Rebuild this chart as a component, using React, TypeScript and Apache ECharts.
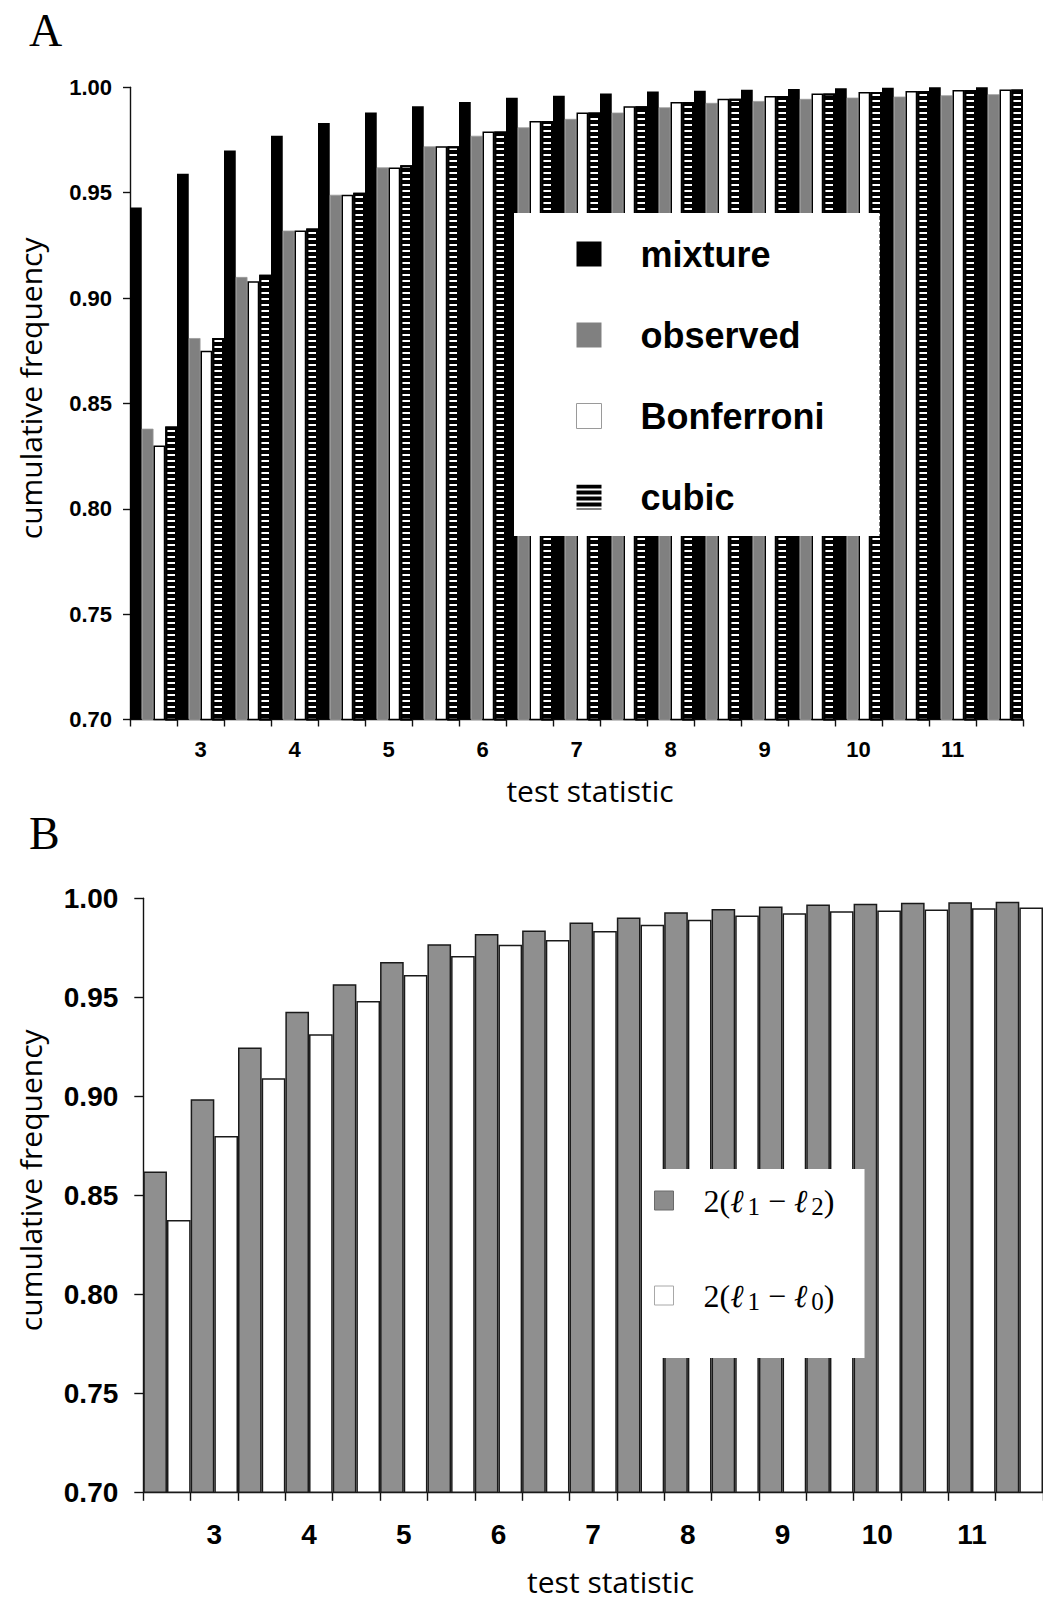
import React, { useEffect, useRef } from "react";
import * as echarts from "echarts";

// ---------- categories / tick labels ----------
const testStatistic = ["2.5", "3", "3.5", "4", "4.5", "5", "5.5", "6", "6.5", "7", "7.5", "8", "8.5", "9", "9.5", "10", "10.5", "11", "11.5"];
const xTickLabels = ["3", "4", "5", "6", "7", "8", "9", "10", "11"];
const yMin = 0.7;
const yMax = 1.0;
const yStep = 0.05;

// ---------- panel A series ----------
const mixture = [0.943, 0.959, 0.970, 0.977, 0.983, 0.988, 0.991, 0.993, 0.995, 0.996, 0.997, 0.998, 0.9984, 0.9988, 0.9992, 0.9995, 0.9998, 1.0, 1.0];
const observed = [0.838, 0.881, 0.910, 0.932, 0.949, 0.962, 0.972, 0.977, 0.981, 0.985, 0.988, 0.9905, 0.9926, 0.9935, 0.9945, 0.9951, 0.9956, 0.9962, 0.9967];
const bonferroni = [0.830, 0.875, 0.908, 0.932, 0.949, 0.962, 0.972, 0.979, 0.984, 0.988, 0.991, 0.993, 0.9946, 0.9959, 0.997, 0.9978, 0.9982, 0.9987, 0.999];
const cubic = [0.839, 0.881, 0.911, 0.933, 0.950, 0.963, 0.972, 0.979, 0.984, 0.988, 0.991, 0.993, 0.9946, 0.9959, 0.997, 0.9978, 0.9982, 0.9987, 0.999];

// ---------- panel B series ----------
const l1MinusL2 = [0.862, 0.8985, 0.9247, 0.9427, 0.9566, 0.9678, 0.9768, 0.982, 0.9838, 0.9878, 0.9903, 0.9929, 0.9946, 0.9959, 0.9969, 0.9972, 0.9978, 0.998, 0.9983];
const l1MinusL0 = [0.8375, 0.880, 0.9091, 0.9313, 0.9481, 0.9613, 0.9709, 0.9765, 0.979, 0.9835, 0.9866, 0.9892, 0.9913, 0.9924, 0.9934, 0.9939, 0.9944, 0.995, 0.9954];

const seriesNamesA = ["mixture", "observed", "Bonferroni", "cubic"];
const seriesNamesB = ["2(ℓ1 − ℓ2)", "2(ℓ1 − ℓ0)"];

const SANS = "Liberation Sans";
const NAME_FONT = "Open Sans";
const SERIF = "Liberation Serif";

function toRich(name: string): string {
  const m = name.match(/^2\(ℓ(\d) − ℓ(\d)\)$/);
  if (!m) return name;
  return `{n|2(}{l|ℓ}{s|${m[1]}}{n| − }{l|ℓ}{s|${m[2]}}{n|)}`;
}

function makeXAxis(gridIndex: number, fontSize: number, margin: number, tickLen: number, nameGap: number, namePadLeft: number) {
  return {
    type: "category",
    gridIndex,
    data: testStatistic,
    boundaryGap: true,
    axisLine: { show: true, lineStyle: { color: "#111", width: 1.4 } },
    axisTick: { show: true, interval: 0, length: tickLen, alignWithLabel: false, lineStyle: { color: "#111", width: 1.4 } },
    axisLabel: {
      interval: (_i: number, v: string) => xTickLabels.includes(v),
      margin,
      fontFamily: SANS,
      fontWeight: "bold",
      fontSize,
      color: "#000",
    },
    splitLine: { show: false },
    name: "test statistic",
    nameLocation: "middle",
    nameGap,
    nameTextStyle: { fontFamily: NAME_FONT, fontSize: 30, color: "#000", padding: [0, 0, 0, namePadLeft] },
  };
}

function makeYAxis(gridIndex: number, fontSize: number, margin: number, tickLen: number, nameGap: number) {
  return {
    type: "value",
    gridIndex,
    min: yMin,
    max: yMax,
    interval: yStep,
    axisLine: { show: true, lineStyle: { color: "#111", width: 1.4 } },
    axisTick: { show: true, length: tickLen, lineStyle: { color: "#111", width: 1.4 } },
    axisLabel: {
      margin,
      fontFamily: SANS,
      fontWeight: "bold",
      fontSize,
      color: "#000",
      formatter: (v: number) => v.toFixed(2),
    },
    splitLine: { show: false },
    name: "cumulative frequency",
    nameLocation: "middle",
    nameGap,
    nameTextStyle: { fontFamily: NAME_FONT, fontSize: 30, color: "#000", padding: [0, 0, 0, 30] },
  };
}

const stripeDecal = {
  symbol: "rect",
  symbolSize: 1,
  symbolKeepAspect: false,
  dashArrayX: [4, 0],
  dashArrayY: [4, 2],
  rotation: 0,
  color: "#000",
};

function buildOption() {
  return {
    animation: false,
    backgroundColor: "#ffffff",
    textStyle: { fontFamily: SANS },
    grid: [
      { left: 130, top: 87.3, width: 893, height: 632.2, containLabel: false },
      { left: 143.3, top: 898.3, width: 908.2, height: 594, containLabel: false },
    ],
    xAxis: [makeXAxis(0, 22, 19, 7, 56, 27), makeXAxis(1, 28, 28, 8.5, 74, 35)],
    yAxis: [makeYAxis(0, 22, 18, 7, 85), makeYAxis(1, 28, 25, 9, 98)],
    legend: [
      {
        orient: "vertical",
        left: 514,
        top: 213,
        backgroundColor: "#ffffff",
        padding: [23, 55, 21, 62],
        itemWidth: 25,
        itemHeight: 25,
        itemGap: 45,
        icon: "rect",
        selectedMode: false,
        textStyle: {
          fontFamily: SANS,
          fontWeight: "bold",
          fontSize: 36,
          lineHeight: 36,
          color: "#000",
          padding: [0, 0, 0, 34],
        },
        data: [
          { name: seriesNamesA[0], itemStyle: { borderWidth: 0 } },
          { name: seriesNamesA[1], itemStyle: { borderWidth: 0 } },
          { name: seriesNamesA[2], itemStyle: { borderColor: "#9a9a9a", borderWidth: 1 } },
          { name: seriesNamesA[3], itemStyle: { borderWidth: 0 } },
        ],
      },
      {
        orient: "vertical",
        left: 646,
        top: 1169,
        backgroundColor: "#ffffff",
        padding: [15.5, 30, 44.5, 8],
        itemWidth: 19,
        itemHeight: 19,
        itemGap: 61,
        icon: "rect",
        selectedMode: false,
        formatter: (name: string) => toRich(name),
        textStyle: {
          color: "#000",
          padding: [0, 0, 0, 25],
          rich: {
            n: { fontFamily: SERIF, fontSize: 32, lineHeight: 36, color: "#000" },
            l: { fontFamily: SERIF, fontStyle: "italic", fontSize: 32, lineHeight: 36, color: "#000" },
            s: { fontFamily: SERIF, fontSize: 25, lineHeight: 10, verticalAlign: "bottom", color: "#000", padding: [0, 0, 0, 4] },
          },
        },
        data: [
          { name: seriesNamesB[0], itemStyle: { color: "#8c8c8c", borderColor: "#6a6a6a", borderWidth: 1 } },
          { name: seriesNamesB[1], itemStyle: { color: "#ffffff", borderColor: "#a8a8a8", borderWidth: 1 } },
        ],
      },
    ],
    series: [
      {
        name: seriesNamesA[0], type: "bar", xAxisIndex: 0, yAxisIndex: 0, data: mixture,
        barGap: "0%", barCategoryGap: "0%",
        itemStyle: { color: "#000000", borderWidth: 0 },
      },
      {
        name: seriesNamesA[1], type: "bar", xAxisIndex: 0, yAxisIndex: 0, data: observed,
        barGap: "0%", barCategoryGap: "0%",
        itemStyle: { color: "#808080", borderColor: "#9a9a9a", borderWidth: 0.8 },
      },
      {
        name: seriesNamesA[2], type: "bar", xAxisIndex: 0, yAxisIndex: 0, data: bonferroni,
        barGap: "0%", barCategoryGap: "0%",
        itemStyle: { color: "#ffffff", borderColor: "#000000", borderWidth: 1.5 },
      },
      {
        name: seriesNamesA[3], type: "bar", xAxisIndex: 0, yAxisIndex: 0, data: cubic,
        barGap: "0%", barCategoryGap: "0%",
        itemStyle: { color: "#ffffff", borderColor: "#000000", borderWidth: 2, decal: stripeDecal },
      },
      {
        name: seriesNamesB[0], type: "bar", xAxisIndex: 1, yAxisIndex: 1, data: l1MinusL2,
        barGap: "0%", barCategoryGap: "0%",
        itemStyle: { color: "#8f8f8f", borderColor: "#1a1a1a", borderWidth: 1.5 },
      },
      {
        name: seriesNamesB[1], type: "bar", xAxisIndex: 1, yAxisIndex: 1, data: l1MinusL0,
        barGap: "0%", barCategoryGap: "0%",
        itemStyle: { color: "#ffffff", borderColor: "#1a1a1a", borderWidth: 1.5 },
      },
    ],
    graphic: [
      { type: "text", left: 29, top: 7, style: { text: "A", font: `46px "${SERIF}"`, fill: "#000" } },
      { type: "text", left: 29, top: 810, style: { text: "B", font: `46px "${SERIF}"`, fill: "#000" } },
    ],
  };
}

export default function App() {
  const ref = useRef<HTMLDivElement>(null);
  useEffect(() => {
    if (!ref.current) return;
    const chart = echarts.init(ref.current, null, { renderer: "svg" });
    chart.setOption(buildOption() as any);
    return () => {
      chart.dispose();
    };
  }, []);
  return (
    <div
      ref={ref}
      style={{ position: "absolute", left: 0, top: 0, width: 1043, height: 1604, background: "#fff", overflow: "hidden" }}
    />
  );
}
